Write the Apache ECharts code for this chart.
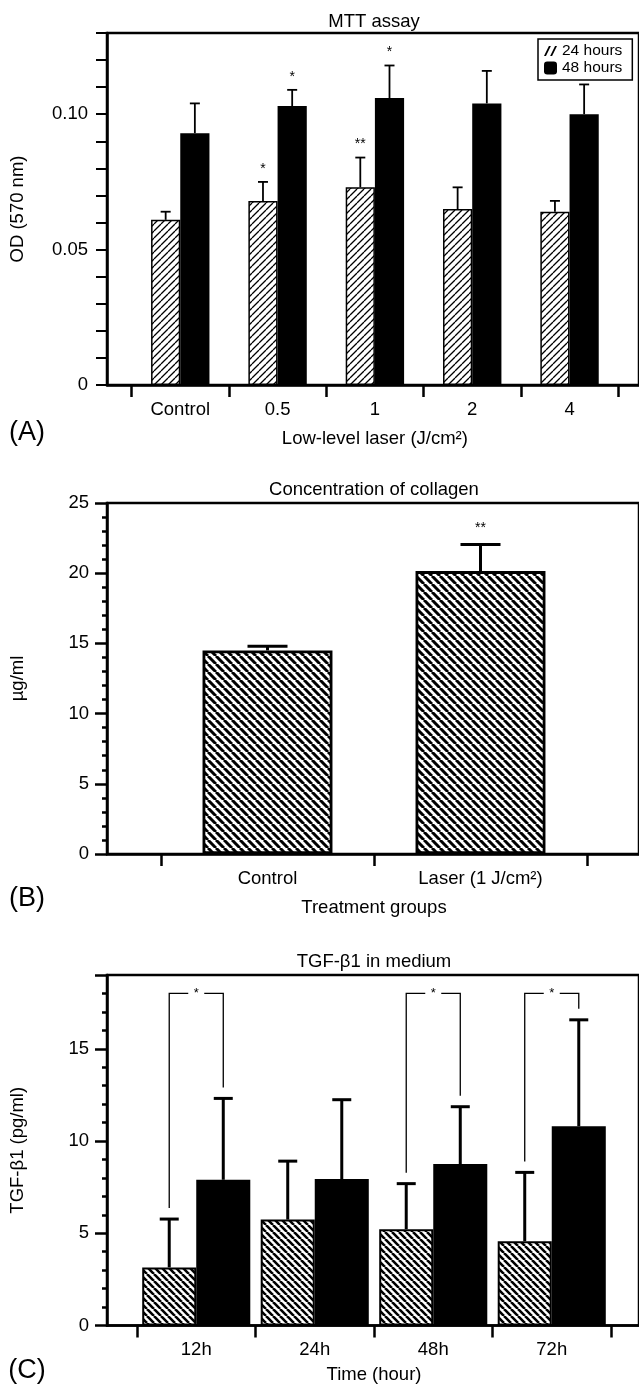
<!DOCTYPE html>
<html>
<head>
<meta charset="utf-8">
<title>MTT assay / collagen / TGF-β1</title>
<script src="https://cdn.jsdelivr.net/npm/echarts@6/dist/echarts.min.js"></script>
<style>
  html, body { margin: 0; padding: 0; background: #fff; }
  #chart { width: 639px; height: 1389px; }
</style>
</head>
<body>
<div id="chart"></div>
<script>
// (A) MTT assay
const mttCategories = ['Control', '0.5', '1', '2', '4'];
const mtt24h = [0.061, 0.068, 0.073, 0.065, 0.064];
const mtt24hSd = [0.003, 0.007, 0.011, 0.008, 0.004];
const mtt48h = [0.093, 0.103, 0.106, 0.104, 0.100];
const mtt48hSd = [0.011, 0.006, 0.012, 0.012, 0.011];
const mtt24hSig = ['', '*', '**', '', ''];
const mtt48hSig = ['', '*', '*', '', ''];

// (B) collagen
const collagenCategories = ['Control', 'Laser (1 J/cm²)'];
const collagen = [14.5, 20.15];
const collagenSd = [0.3, 1.9];
const collagenSig = ['', '**'];

// (C) TGF-b1 in medium
const tgfCategories = ['12h', '24h', '48h', '72h'];
const tgfHatched = [3.15, 5.74, 5.22, 4.57];
const tgfHatchedSd = [2.62, 3.17, 2.47, 3.73];
const tgfSolid = [7.90, 7.94, 8.75, 10.80];
const tgfSolidSd = [4.41, 4.30, 3.11, 5.77];
const tgfBracketCats = [0, 2, 3];
const tgfBracketLevel = 18;

const FONT = '"Liberation Sans", Arial, Helvetica, sans-serif';

// diagonal hatch tile, forward = '/' else '\'
function hatch(size, lw, forward) {
    const c = document.createElement('canvas');
    c.width = size;
    c.height = size;
    const g = c.getContext('2d');
    g.fillStyle = '#fff';
    g.fillRect(0, 0, size, size);
    g.strokeStyle = '#000';
    g.lineWidth = lw;
    g.beginPath();
    for (let k = -1; k <= 1; k++) {
        if (forward) {
            g.moveTo(k * size, size);
            g.lineTo(k * size + size, 0);
        } else {
            g.moveTo(k * size, 0);
            g.lineTo(k * size + size, size);
        }
    }
    g.stroke();
    return c;
}

const hatchA = { image: hatch(7, 1.3, true), repeat: 'repeat' };
const hatchB = { image: hatch(8, 3, false), repeat: 'repeat' };
const hatchC = { image: hatch(7, 2.6, false), repeat: 'repeat' };

function frameGrid(top, height) {
    return { left: 107, right: -10, top: top, height: height, show: true,
        borderColor: '#000', borderWidth: 2.5, backgroundColor: 'transparent' };
}

function frameX(gridIndex) {
    return {
        type: 'value', gridIndex: gridIndex, min: 0, max: 1,
        axisLine: { show: true, onZero: false, lineStyle: { color: '#000', width: 2.5 } },
        axisTick: { show: false }, axisLabel: { show: false }, splitLine: { show: false }
    };
}

function dataX(gridIndex, cats, name, nameGap) {
    return {
        type: 'category', gridIndex: gridIndex, data: cats,
        axisLine: { show: false },
        axisTick: { show: true, length: 12, lineStyle: { color: '#000', width: 2.5 } },
        axisLabel: { color: '#000', fontSize: 18.5, margin: 15, fontFamily: FONT },
        name: name, nameLocation: 'middle', nameGap: nameGap,
        nameTextStyle: { color: '#000', fontSize: 18.5, fontFamily: FONT }
    };
}

function frameY(gridIndex, max, interval, name, extra) {
    return Object.assign({
        type: 'value', gridIndex: gridIndex, min: 0, max: max, interval: interval,
        axisLine: { show: true, lineStyle: { color: '#000', width: 2.5 } },
        axisTick: { show: true, length: 12, lineStyle: { color: '#000', width: 2.5 } },
        axisLabel: { color: '#000', fontSize: 18.5, margin: 18, fontFamily: FONT },
        splitLine: { show: false },
        name: name, nameLocation: 'middle', nameGap: 80,
        nameTextStyle: { color: '#000', fontSize: 18.5, fontFamily: FONT }
    }, extra || {});
}

function dataY(gridIndex, max) {
    return { type: 'value', gridIndex: gridIndex, min: 0, max: max, show: false };
}

// vertical error bar (upper half only) + optional significance marks
function errorBars(axisIdx, values, sds, shift, barFrac, opt) {
    return {
        type: 'custom', xAxisIndex: axisIdx, yAxisIndex: axisIdx, z: 3, silent: true,
        data: values.map((v, i) => [i, v, v + sds[i]]),
        renderItem(params, api) {
            const band = api.size([1, 0])[0];
            const x = api.coord([api.value(0), 0])[0] + shift * band * barFrac;
            const yBar = api.coord([api.value(0), api.value(1)])[1];
            const yTop = api.coord([api.value(0), api.value(2)])[1];
            const kids = [
                { type: 'line', shape: { x1: x, y1: yBar, x2: x, y2: yTop },
                  style: { stroke: '#000', lineWidth: opt.lw } },
                { type: 'line', shape: { x1: x - opt.cap / 2, y1: yTop, x2: x + opt.cap / 2, y2: yTop },
                  style: { stroke: '#000', lineWidth: opt.lw } }
            ];
            const sig = opt.sig && opt.sig[params.dataIndex];
            if (sig) {
                kids.push({ type: 'text', style: { text: sig, x: x, y: yTop - opt.sigGap,
                    align: 'center', verticalAlign: 'middle', fill: '#000',
                    fontSize: opt.sigSize, fontFamily: FONT } });
            }
            return { type: 'group', children: kids };
        }
    };
}

const tgfBarFrac = 0.456;

const option = {
    animation: false,
    textStyle: { fontFamily: FONT },
    grid: [
        frameGrid(33, 352), { left: 131.6, width: 486.6, top: 33, height: 352 },
        frameGrid(503, 351), { left: 161, width: 426, top: 503, height: 351 },
        frameGrid(975, 350.5), { left: 137, width: 474, top: 975, height: 350.5 }
    ],
    xAxis: [
        frameX(0), dataX(1, mttCategories, 'Low-level laser (J/cm²)', 44),
        frameX(2), dataX(3, collagenCategories, 'Treatment groups', 44),
        frameX(4), dataX(5, tgfCategories, 'Time (hour)', 40)
    ],
    yAxis: [
        frameY(0, 0.13, 0.01, 'OD (570 nm)', {
            axisTick: { show: true, length: 11, lineStyle: { color: '#000', width: 2 } },
            axisLabel: { color: '#000', fontSize: 18.5, margin: 19, fontFamily: FONT,
                formatter: v => {
                    const k = Math.round(v * 100);
                    return k % 5 === 0 ? (k === 0 ? '0' : v.toFixed(2)) : '';
                } }
        }),
        dataY(1, 0.13),
        frameY(2, 25, 5, 'µg/ml', {
            minorTick: { show: true, splitNumber: 5, length: 5, lineStyle: { color: '#000', width: 2.5 } }
        }),
        dataY(3, 25),
        frameY(4, 19, 5, 'TGF-β1 (pg/ml)', {
            minorTick: { show: true, splitNumber: 5, length: 5, lineStyle: { color: '#000', width: 2.5 } },
            axisLabel: { color: '#000', fontSize: 18.5, margin: 18, fontFamily: FONT,
                formatter: v => (v % 5 === 0 ? String(v) : '') }
        }),
        dataY(5, 19)
    ],
    legend: {
        data: [
            { name: '24 hours', icon: 'path://M1,9 L5,1 L6.6,1 L2.6,9 Z M6,9 L10,1 L11.6,1 L7.6,9 Z',
              itemStyle: { color: '#000', borderWidth: 0 } },
            { name: '48 hours', icon: 'roundRect', itemStyle: { color: '#000', borderWidth: 0 } }
        ],
        orient: 'vertical', left: 538, top: 39,
        itemWidth: 13, itemHeight: 13, itemGap: 1,
        padding: [4, 10, 4, 6], borderColor: '#000', borderWidth: 1.5,
        selectedMode: false,
        textStyle: { fontSize: 15.5, color: '#000', fontFamily: FONT }
    },
    graphic: [
        { type: 'text', style: { text: 'MTT assay', x: 374, y: 22, align: 'center', verticalAlign: 'middle', fontSize: 18.5, fontFamily: FONT, fill: '#000' } },
        { type: 'text', style: { text: 'Concentration of collagen', x: 374, y: 490, align: 'center', verticalAlign: 'middle', fontSize: 18.5, fontFamily: FONT, fill: '#000' } },
        { type: 'text', style: { text: 'TGF-β1 in medium', x: 374, y: 962, align: 'center', verticalAlign: 'middle', fontSize: 18.5, fontFamily: FONT, fill: '#000' } },
        { type: 'text', style: { text: '(A)', x: 27, y: 433, align: 'center', verticalAlign: 'middle', fontSize: 27, fontFamily: FONT, fill: '#000' } },
        { type: 'text', style: { text: '(B)', x: 27, y: 899, align: 'center', verticalAlign: 'middle', fontSize: 27, fontFamily: FONT, fill: '#000' } },
        { type: 'text', style: { text: '(C)', x: 27, y: 1371, align: 'center', verticalAlign: 'middle', fontSize: 27, fontFamily: FONT, fill: '#000' } }
    ],
    series: [
        // A
        { type: 'bar', name: '24 hours', xAxisIndex: 1, yAxisIndex: 1, data: mtt24h,
          barWidth: '30%', barGap: '0%',
          itemStyle: { color: hatchA, borderColor: '#000', borderWidth: 1.5 } },
        { type: 'bar', name: '48 hours', xAxisIndex: 1, yAxisIndex: 1, data: mtt48h,
          barWidth: '30%', barGap: '0%',
          itemStyle: { color: '#000', borderColor: '#000', borderWidth: 1.5 } },
        errorBars(1, mtt24h, mtt24hSd, -0.5, 0.30, { lw: 1.8, cap: 10, sig: mtt24hSig, sigGap: 13, sigSize: 14 }),
        errorBars(1, mtt48h, mtt48hSd, 0.5, 0.30, { lw: 1.8, cap: 10, sig: mtt48hSig, sigGap: 13, sigSize: 14 }),
        // B
        { type: 'bar', name: 'collagen', xAxisIndex: 3, yAxisIndex: 3, data: collagen,
          barWidth: '61%',
          itemStyle: { color: hatchB, borderColor: '#000', borderWidth: 2.8 } },
        errorBars(3, collagen, collagenSd, 0, 0.61, { lw: 3, cap: 40, sig: collagenSig, sigGap: 16, sigSize: 14 }),
        // C
        { type: 'bar', name: 'tgf-hatched', xAxisIndex: 5, yAxisIndex: 5, data: tgfHatched,
          barWidth: '45.6%', barGap: '0%',
          itemStyle: { color: hatchC, borderColor: '#000', borderWidth: 2 } },
        { type: 'bar', name: 'tgf-solid', xAxisIndex: 5, yAxisIndex: 5, data: tgfSolid,
          barWidth: '45.6%', barGap: '0%',
          itemStyle: { color: '#000', borderColor: '#000', borderWidth: 2 } },
        errorBars(5, tgfHatched, tgfHatchedSd, -0.5, tgfBarFrac, { lw: 3, cap: 19 }),
        errorBars(5, tgfSolid, tgfSolidSd, 0.5, tgfBarFrac, { lw: 3, cap: 19 }),
        {
            type: 'custom', xAxisIndex: 5, yAxisIndex: 5, z: 3, silent: true,
            data: tgfBracketCats.map(i => [i, tgfBracketLevel,
                tgfHatched[i] + tgfHatchedSd[i], tgfSolid[i] + tgfSolidSd[i]]),
            renderItem(params, api) {
                const band = api.size([1, 0])[0];
                const c = api.coord([api.value(0), api.value(1)]);
                const xl = c[0] - band * tgfBarFrac / 2;
                const xr = c[0] + band * tgfBarFrac / 2;
                const yl = api.coord([api.value(0), api.value(2)])[1] - 11;
                const yr = api.coord([api.value(0), api.value(3)])[1] - 11;
                const xm = (xl + xr) / 2;
                return { type: 'group', children: [
                    { type: 'polyline', shape: { points: [[xl, yl], [xl, c[1]], [xm - 8, c[1]]] },
                      style: { stroke: '#000', lineWidth: 1.3, fill: null } },
                    { type: 'polyline', shape: { points: [[xm + 8, c[1]], [xr, c[1]], [xr, yr]] },
                      style: { stroke: '#000', lineWidth: 1.3, fill: null } },
                    { type: 'text', style: { text: '*', x: xm, y: c[1], align: 'center', verticalAlign: 'middle',
                      fontSize: 13, fontFamily: FONT, fill: '#000' } }
                ] };
            }
        }
    ]
};

const chart = echarts.init(document.getElementById('chart'));
chart.setOption(option);
</script>
</body>
</html>
